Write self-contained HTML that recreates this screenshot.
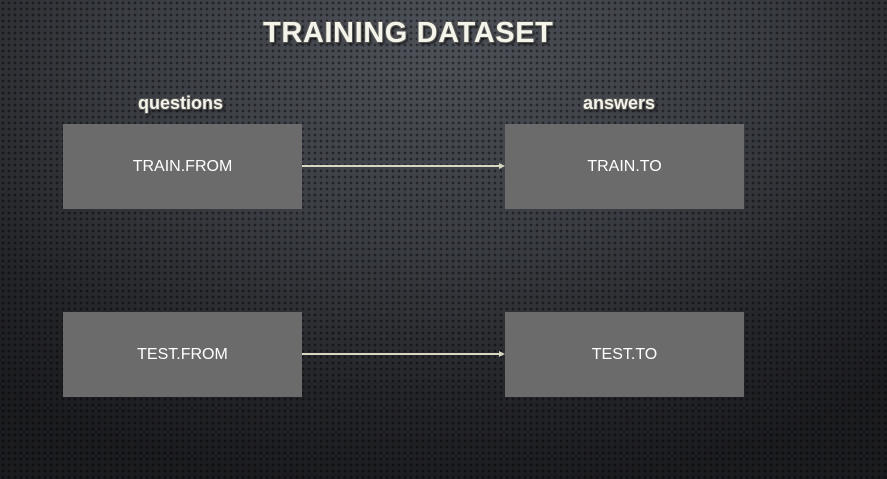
<!DOCTYPE html>
<html><head><meta charset="utf-8"><style>
html,body{margin:0;padding:0}
body{width:887px;height:479px;overflow:hidden;position:relative;font-family:"Liberation Sans",sans-serif;
background:radial-gradient(ellipse 700px 450px at 440px 40px,#4d5158 0%,#3a3d43 45%,#232428 80%,#1b1c1f 100%);}
.dots{position:absolute;inset:0;background-image:radial-gradient(circle,rgba(0,0,0,.45) 1.2px,transparent 1.6px);background-size:6px 6px;}
.t{position:absolute;color:#f4f4ea;font-weight:bold;text-shadow:1px 1px 0 #555,-1px -1px 0 #555,1px -1px 0 #555,-1px 1px 0 #555,2px 2px 2px #111;}
.box{position:absolute;width:239px;height:85px;background:#6b6b6b;color:#fff;font-size:16px;display:flex;align-items:center;justify-content:center;}
</style></head><body>
<div class="dots"></div>
<div class="t" style="left:263px;top:17px;font-size:29px;letter-spacing:0.6px;">TRAINING DATASET</div>
<div class="t" style="left:138px;top:93px;font-size:18px;">questions</div>
<div class="t" style="left:583px;top:93px;font-size:18px;">answers</div>
<div class="box" style="left:63px;top:124px">TRAIN.FROM</div>
<div class="box" style="left:505px;top:124px">TRAIN.TO</div>
<div class="box" style="left:63px;top:312px">TEST.FROM</div>
<div class="box" style="left:505px;top:312px">TEST.TO</div>
<svg width="887" height="479" style="position:absolute;left:0;top:0">
<g stroke="#d8d8c0" stroke-width="2" fill="#d8d8c0">
<line x1="302" y1="166" x2="500" y2="166"/><polygon points="505,166 499,163 499,169" stroke="none"/>
<line x1="302" y1="354" x2="500" y2="354"/><polygon points="505,354 499,351 499,357" stroke="none"/>
</g></svg>
</body></html>
